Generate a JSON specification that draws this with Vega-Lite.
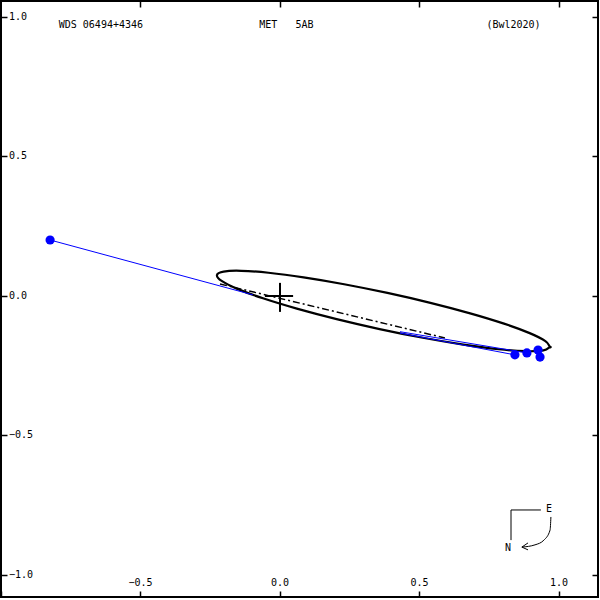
{
  "$schema": "https://vega.github.io/schema/vega-lite/v6.json",
  "width": 597,
  "height": 596,
  "padding": {"left": 1, "top": 1, "right": 2, "bottom": 3},
  "autosize": {"type": "none"},
  "background": "white",
  "config": {
    "view": {"stroke": "black", "strokeWidth": 2},
    "font": "DejaVu Sans Mono",
    "axis": {"domain": false, "grid": false, "labels": false, "title": null, "ticks": true, "tickColor": "black", "tickSize": -6, "tickWidth": 1.5}
  },
  "resolve": {"axis": {"x": "independent", "y": "independent"}},
  "datasets": {
    "orbit": [
      {"t": 0, "x": 0.9679, "y": -0.1828}, {"t": 15, "x": 0.9512, "y": -0.1616}, {"t": 30, "x": 0.8949, "y": -0.1331},
      {"t": 45, "x": 0.8030, "y": -0.0992}, {"t": 60, "x": 0.6816, "y": -0.0622}, {"t": 75, "x": 0.5390, "y": -0.0246},
      {"t": 90, "x": 0.3850, "y": 0.0110}, {"t": 105, "x": 0.2300, "y": 0.0422}, {"t": 120, "x": 0.0846, "y": 0.0668},
      {"t": 135, "x": -0.0412, "y": 0.0832}, {"t": 150, "x": -0.1389, "y": 0.0903}, {"t": 165, "x": -0.2020, "y": 0.0876},
      {"t": 180, "x": -0.2259, "y": 0.0752}, {"t": 195, "x": -0.2092, "y": 0.0540}, {"t": 210, "x": -0.1529, "y": 0.0255},
      {"t": 225, "x": -0.0610, "y": -0.0084}, {"t": 240, "x": 0.0604, "y": -0.0454}, {"t": 255, "x": 0.2030, "y": -0.0830},
      {"t": 270, "x": 0.3570, "y": -0.1186}, {"t": 285, "x": 0.5120, "y": -0.1498}, {"t": 300, "x": 0.6574, "y": -0.1744},
      {"t": 315, "x": 0.7832, "y": -0.1908}, {"t": 330, "x": 0.8809, "y": -0.1979}, {"t": 345, "x": 0.9440, "y": -0.1952},
      {"t": 360, "x": 0.9679, "y": -0.1828}
    ],
    "nodes": [{"x": -0.215, "y": 0.043}, {"x": 0.591, "y": -0.1505}],
    "cross": [{"x": -0.054, "y": 0, "x2": 0.047, "y2": 0}, {"x": 0, "y": 0.047, "x2": 0, "y2": -0.057}],
    "oc": [
      {"x": -0.824, "y": 0.2007, "x2": -0.097, "y2": 0.004},
      {"x": 0.842, "y": -0.211, "x2": 0.43, "y2": -0.133},
      {"x": 0.885, "y": -0.204, "x2": 0.43, "y2": -0.128}
    ],
    "obs": [
      {"x": -0.824, "y": 0.2007}, {"x": 0.842, "y": -0.211}, {"x": 0.885, "y": -0.204},
      {"x": 0.925, "y": -0.194}, {"x": 0.932, "y": -0.219}
    ],
    "xlabels": [{"v": -0.5}, {"v": 0.0}, {"v": 0.5}, {"v": 1.0}],
    "ylabels": [{"v": 1.0}, {"v": 0.5}, {"v": 0.0}, {"v": -0.5}, {"v": -1.0}],
    "header": [
      {"x": -0.642, "y": 0.97, "label": "WDS 06494+4346"},
      {"x": 0.023, "y": 0.97, "label": "MET\u00a0\u00a0\u00a05AB"},
      {"x": 0.837, "y": 0.97, "label": "(Bwl2020)"}
    ],
    "compassRules": [
      {"x": 0.828, "y": -0.767, "x2": 0.935, "y2": -0.767},
      {"x": 0.828, "y": -0.767, "x2": 0.828, "y2": -0.875},
      {"x": 0.867, "y": -0.9, "x2": 0.889, "y2": -0.885},
      {"x": 0.867, "y": -0.9, "x2": 0.889, "y2": -0.91}
    ],
    "compassCurve": [
      {"o": 1, "x": 0.971, "y": -0.792}, {"o": 2, "x": 0.968, "y": -0.839}, {"o": 3, "x": 0.946, "y": -0.875},
      {"o": 4, "x": 0.914, "y": -0.892}, {"o": 5, "x": 0.867, "y": -0.9}
    ],
    "compassText": [{"x": 0.964, "y": -0.763, "label": "E"}, {"x": 0.817, "y": -0.903, "label": "N"}]
  },
  "layer": [
    {
      "data": {"name": "orbit"},
      "mark": {"type": "line", "color": "black", "strokeWidth": 2.2, "interpolate": "cardinal-closed"},
      "encoding": {
        "x": {"field": "x", "type": "quantitative", "scale": {"domain": [-1.0, 1.1398], "nice": false, "zero": false}, "axis": {"orient": "bottom", "values": [-1.0, -0.5, 0, 0.5, 1.0]}},
        "y": {"field": "y", "type": "quantitative", "scale": {"domain": [-1.0789, 1.0573], "nice": false, "zero": false}, "axis": {"orient": "left", "values": [-1.0, -0.5, 0, 0.5, 1.0]}},
        "order": {"field": "t", "type": "quantitative"}
      }
    },
    {
      "data": {"name": "obs"},
      "mark": {"type": "point", "opacity": 0},
      "encoding": {
        "x": {"field": "x", "type": "quantitative", "axis": {"orient": "top", "values": [-0.5, 0, 0.5, 1.0]}},
        "y": {"field": "y", "type": "quantitative", "axis": {"orient": "right", "values": [-1.0, -0.5, 0, 0.5, 1.0]}}
      }
    },
    {
      "data": {"name": "nodes"},
      "mark": {"type": "line", "color": "black", "strokeWidth": 1.5, "strokeDash": [7, 3, 2, 3]},
      "encoding": {"x": {"field": "x", "type": "quantitative", "axis": null}, "y": {"field": "y", "type": "quantitative", "axis": null}}
    },
    {
      "data": {"name": "oc"},
      "mark": {"type": "rule", "color": "#0000ff", "strokeWidth": 1},
      "encoding": {"x": {"field": "x", "type": "quantitative", "axis": null}, "y": {"field": "y", "type": "quantitative", "axis": null}, "x2": {"field": "x2"}, "y2": {"field": "y2"}}
    },
    {
      "data": {"name": "cross"},
      "mark": {"type": "rule", "color": "black", "strokeWidth": 2},
      "encoding": {"x": {"field": "x", "type": "quantitative", "axis": null}, "y": {"field": "y", "type": "quantitative", "axis": null}, "x2": {"field": "x2"}, "y2": {"field": "y2"}}
    },
    {
      "data": {"name": "obs"},
      "mark": {"type": "circle", "color": "#0000ff", "opacity": 1, "size": 85},
      "encoding": {"x": {"field": "x", "type": "quantitative", "axis": null}, "y": {"field": "y", "type": "quantitative", "axis": null}}
    },
    {
      "data": {"name": "xlabels"},
      "mark": {"type": "text", "font": "DejaVu Sans Mono", "fontSize": 10, "color": "black", "dy": -14, "baseline": "middle", "align": "center"},
      "encoding": {
        "x": {"field": "v", "type": "quantitative", "axis": null},
        "y": {"datum": -1.0789, "type": "quantitative", "axis": null},
        "text": {"field": "v", "type": "quantitative", "format": ".1f"}
      }
    },
    {
      "data": {"name": "ylabels"},
      "mark": {"type": "text", "font": "DejaVu Sans Mono", "fontSize": 10, "color": "black", "dx": 8, "baseline": "middle", "align": "left"},
      "encoding": {
        "x": {"datum": -1.0, "type": "quantitative", "axis": null},
        "y": {"field": "v", "type": "quantitative", "axis": null},
        "text": {"field": "v", "type": "quantitative", "format": ".1f"}
      }
    },
    {
      "data": {"name": "header"},
      "mark": {"type": "text", "font": "DejaVu Sans Mono", "fontSize": 10, "color": "black", "baseline": "middle", "align": "center"},
      "encoding": {"x": {"field": "x", "type": "quantitative", "axis": null}, "y": {"field": "y", "type": "quantitative", "axis": null}, "text": {"field": "label"}}
    },
    {
      "data": {"name": "compassRules"},
      "mark": {"type": "rule", "color": "black", "strokeWidth": 1},
      "encoding": {"x": {"field": "x", "type": "quantitative", "axis": null}, "y": {"field": "y", "type": "quantitative", "axis": null}, "x2": {"field": "x2"}, "y2": {"field": "y2"}}
    },
    {
      "data": {"name": "compassCurve"},
      "mark": {"type": "line", "color": "black", "strokeWidth": 1, "interpolate": "monotone"},
      "encoding": {"x": {"field": "x", "type": "quantitative", "axis": null}, "y": {"field": "y", "type": "quantitative", "axis": null}, "order": {"field": "o", "type": "quantitative"}}
    },
    {
      "data": {"name": "compassText"},
      "mark": {"type": "text", "font": "DejaVu Sans Mono", "fontSize": 10, "color": "black", "baseline": "middle", "align": "center"},
      "encoding": {"x": {"field": "x", "type": "quantitative", "axis": null}, "y": {"field": "y", "type": "quantitative", "axis": null}, "text": {"field": "label"}}
    }
  ]
}
